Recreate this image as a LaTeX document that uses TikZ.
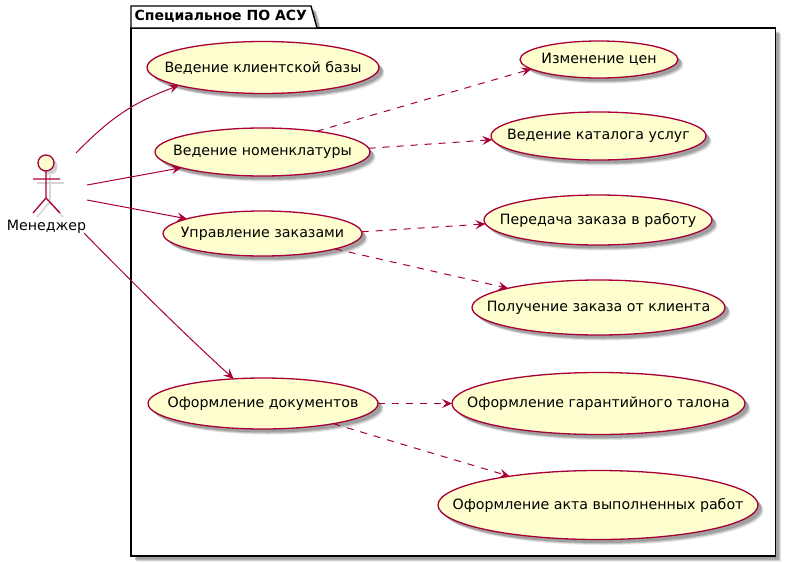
\documentclass[tikz,border=0pt]{standalone}
\usepackage{fontspec}
\setmainfont{DejaVu Sans}
\usetikzlibrary{shapes.geometric,shadows,arrows.meta}
\definecolor{umlred}{HTML}{A80036}
\definecolor{umlfill}{HTML}{FEFECE}
\newcommand{\uctext}[1]{\makebox[0pt][c]{#1}}
\tikzset{
  softshadow/.style={
    general shadow={shadow xshift=5.5pt,shadow yshift=-5.5pt,fill=black,opacity=.10},
    general shadow={shadow xshift=4.5pt,shadow yshift=-4.5pt,fill=black,opacity=.14},
    general shadow={shadow xshift=3.5pt,shadow yshift=-3.5pt,fill=black,opacity=.18}},
  usecase/.style={ellipse,draw=umlred,fill=umlfill,line width=1.3pt,inner sep=0pt,outer sep=0pt,
    font=\fontsize{14.2}{16}\selectfont,softshadow,text=black},
  assoc/.style={draw=umlred,line width=1pt,-{Stealth[length=10pt,width=9pt,inset=4pt]}},
  dep/.style={assoc,dash pattern=on 7pt off 7pt},
  limb/.style={draw=umlred,line width=1.3pt},
  limbshadow/.style={draw=black!16,line width=1.6pt}
}
\begin{document}
\begin{tikzpicture}[x=1pt,y=-1pt]
\useasboundingbox (0,0) rectangle (791,562);
% package shadow
\foreach \s/\o in {5.5/.10,4.5/.14,3.5/.18}{
  \fill[black,opacity=\o,shift={(\s,\s)}] (131,6) -- (311,6) -- (317,28) -- (775.5,28) -- (775.5,556) -- (131,556) -- cycle;
}
\draw[black,fill=white,line width=1.4pt] (131,28) rectangle (775.5,556);
\draw[black,fill=white,line width=1.4pt] (131,28) -- (131,6) -- (311,6) -- (317,28) -- cycle;
\node[anchor=west,inner sep=0pt,font=\bfseries\fontsize{14}{16}\selectfont] (pkg) at (134.5,16.5) {Специальное ПО АСУ};

% left use cases
\node[usecase,minimum width=232pt,minimum height=52pt] (uc1) at (263,67.5) {\uctext{Ведение клиентской базы}};
\node[usecase,minimum width=215pt,minimum height=48pt] (uc2) at (262.5,152) {\uctext{Ведение номенклатуры}};
\node[usecase,minimum width=199pt,minimum height=45pt] (uc3) at (262.5,233.5) {\uctext{Управление заказами}};
\node[usecase,minimum width=230pt,minimum height=51pt] (uc4) at (263,403.5) {\uctext{Оформление документов}};
% right use cases
\node[usecase,minimum width=158pt,minimum height=37pt] (r1) at (599,59.5) {\uctext{Изменение цен}};
\node[usecase,minimum width=215pt,minimum height=48pt] (r2) at (598.5,136) {\uctext{Ведение каталога услуг}};
\node[usecase,minimum width=228pt,minimum height=50pt] (r3) at (598,220) {\uctext{Передача заказа в работу}};
\node[usecase,minimum width=253pt,minimum height=55pt] (r4) at (598.5,307.5) {\uctext{Получение заказа от клиента}};
\node[usecase,minimum width=293pt,minimum height=62pt] (r5) at (598.5,403.5) {\uctext{Оформление гарантийного талона}};
\node[usecase,minimum width=320pt,minimum height=69pt] (r6) at (598,505) {\uctext{Оформление акта выполненных работ}};

% actor
\draw[limbshadow] (50,175) -- (50,202) (37,183) -- (64,183) (50,202) -- (37,217) (50,202) -- (63,217);
\node[circle,draw=umlred,fill=umlfill,line width=1.3pt,minimum size=16pt,inner sep=0pt,
  general shadow={shadow xshift=3.5pt,shadow yshift=-3.5pt,fill=black,opacity=.18}] (head) at (46,163) {};
\coordinate (hip) at (46,198);
\coordinate (armL) at (33,179);
\coordinate (armR) at (60,179);
\coordinate (legL) at (33,213);
\coordinate (legR) at (60,213);
\draw[limb] (head) -- (hip) (armL) -- (armR) (legL) -- (hip) -- (legR);
\node[inner sep=0pt,font=\fontsize{14.2}{16}\selectfont] (actor) at (46.5,226.5) {Менеджер};
\coordinate (a1) at (76,153);
\coordinate (a2) at (87,185);
\coordinate (a3) at (87,200);
\coordinate (a4) at (84,233);

% associations
\draw[assoc] (a1) .. controls (112,116) and (135,102) .. (uc1.192);
\draw[assoc] (a2) -- (uc2.191);
\draw[assoc] (a3) -- (uc3.169.5);
\draw[assoc] (a4) .. controls (125,275) and (180,330) .. (uc4.140.4);

% dependencies
\draw[dep] (uc2.21) -- (r1.188.8);
\draw[dep] (uc2.2.1) -- (r2.182.7);
\draw[dep] (uc3.1.7) -- (r3.182);
\draw[dep] (uc3.-12.4) -- (r4.168.4);
\draw[dep] (uc4.0) -- (r5.180);
\draw[dep] (uc4.-16.7) -- (r6.162.7);
\end{tikzpicture}
\end{document}
